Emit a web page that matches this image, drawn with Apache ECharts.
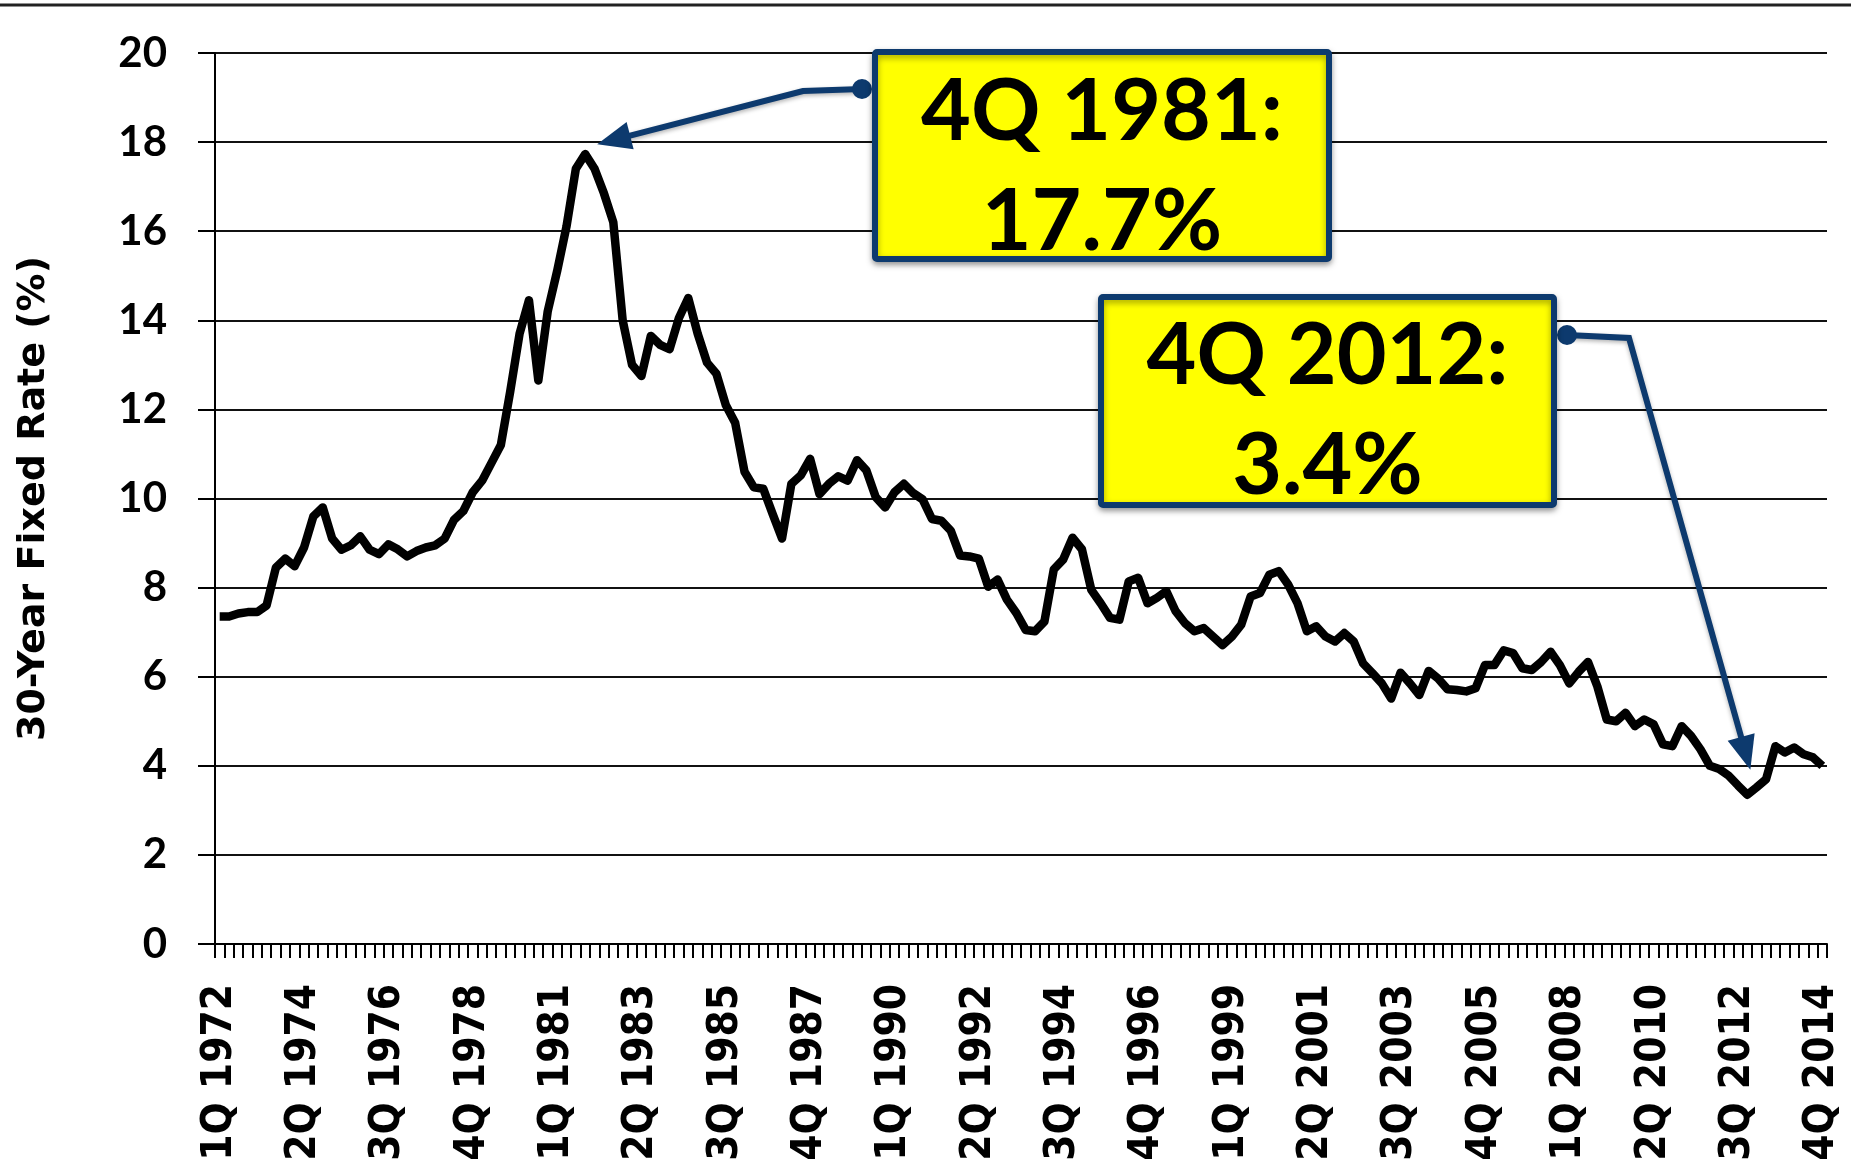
<!DOCTYPE html>
<html>
<head>
<meta charset="utf-8">
<script src="https://cdn.jsdelivr.net/npm/echarts@6/dist/echarts.min.js"></script>
<style>
  html, body { margin: 0; padding: 0; background: #fff; }
  #chart { width: 1851px; height: 1162px; }
</style>
</head>
<body>
<div id="chart"></div>
<script>
// quarters 1Q 1972 .. 4Q 2014
const quarters = [];
for (let y = 1972; y <= 2014; y++) {
  for (let q = 1; q <= 4; q++) quarters.push(q + "Q " + y);
}

// 30-year fixed rate, %
const rates = [
  7.35, 7.35, 7.42, 7.45, 7.45, 7.6, 8.45, 8.65, 8.48, 8.9,
  9.6, 9.8, 9.1, 8.85, 8.95, 9.15, 8.85, 8.75, 8.97, 8.86,
  8.7, 8.82, 8.9, 8.95, 9.1, 9.52, 9.72, 10.14, 10.4, 10.8,
  11.2, 12.4, 13.7, 14.45, 12.65, 14.2, 15.1, 16.1, 17.4, 17.73,
  17.4, 16.85, 16.2, 14.0, 13.0, 12.75, 13.65, 13.45, 13.35, 14.05,
  14.5, 13.7, 13.05, 12.8, 12.1, 11.7, 10.6, 10.25, 10.22, 9.65,
  9.1, 10.33, 10.52, 10.89, 10.1, 10.33, 10.5, 10.4, 10.86, 10.63,
  10.03, 9.8, 10.14, 10.33, 10.12, 9.98, 9.54, 9.5, 9.28, 8.72,
  8.7, 8.65, 8.02, 8.18, 7.73, 7.43, 7.05, 7.02, 7.24, 8.41,
  8.63, 9.12, 8.86, 7.95, 7.65, 7.32, 7.28, 8.14, 8.22, 7.65,
  7.77, 7.92, 7.47, 7.2, 7.02, 7.09, 6.9, 6.71, 6.9, 7.17,
  7.8, 7.88, 8.29, 8.37, 8.07, 7.65, 7.02, 7.13, 6.9, 6.79,
  6.98, 6.79, 6.3, 6.08, 5.85, 5.51, 6.09, 5.85, 5.59, 6.13,
  5.96, 5.72, 5.7, 5.67, 5.74, 6.26, 6.26, 6.59, 6.53, 6.19,
  6.15, 6.33, 6.56, 6.26, 5.85, 6.11, 6.33, 5.78, 5.04, 5.0,
  5.19, 4.89, 5.04, 4.93, 4.48, 4.44, 4.89, 4.67, 4.37, 4.0,
  3.93, 3.78, 3.56, 3.35, 3.52, 3.7, 4.44, 4.3, 4.41, 4.26,
  4.19, 4.0
];

const callouts = [
  { idx: 39, lines: ["4Q 1981:", "17.7%"] },
  { idx: 163, lines: ["4Q 2012:", "3.4%"] }
];

const navy = "#0d3a6e";
const chart = echarts.init(document.getElementById("chart"));

chart.setOption({
  animation: false,
  grid: { left: 215, right: 24, top: 53, bottom: 218, containLabel: false, outerBoundsMode: "none" },
  xAxis: {
    type: "category",
    data: quarters,
    boundaryGap: true,
    axisLine: { lineStyle: { color: "#000", width: 2 } },
    axisTick: { show: true, interval: 0, length: 14, lineStyle: { color: "#000", width: 2 } },
    axisLabel: {
      interval: 8,
      rotate: 90,
      margin: 40,
      color: "#000",
      fontFamily: "DejaVu Sans Condensed, DejaVu Sans",
      fontWeight: "bold",
      fontSize: 42
    },
    splitLine: { show: false }
  },
  yAxis: {
    type: "value",
    min: 0,
    max: 20,
    interval: 2,
    name: "30-Year Fixed Rate (%)",
    nameLocation: "middle",
    nameGap: 162,
    nameTextStyle: { fontFamily: "DejaVu Sans", fontWeight: "bold", fontSize: 38, color: "#000" },
    axisLine: { show: true, lineStyle: { color: "#000", width: 2 } },
    axisTick: { show: true, length: 17, lineStyle: { color: "#000", width: 2 } },
    axisLabel: { margin: 48, color: "#000", fontFamily: "Lato", fontWeight: "bold", fontSize: 42 },
    splitLine: { lineStyle: { color: "#111", width: 2 } }
  },
  series: [{
    type: "line",
    data: rates,
    showSymbol: false,
    lineStyle: { color: "#000", width: 8.5, join: "round" }
  }]
});

// arrow + box callouts
function arrow(pts) {
  const a = pts[pts.length - 2], b = pts[pts.length - 1];
  const ang = Math.atan2(b[1] - a[1], b[0] - a[0]);
  const L = 34, W = 14;
  const base = [b[0] - L * Math.cos(ang), b[1] - L * Math.sin(ang)];
  const nx = -Math.sin(ang), ny = Math.cos(ang);
  const line = pts.slice(0, -1).concat([[b[0] - (L - 4) * Math.cos(ang), b[1] - (L - 4) * Math.sin(ang)]]);
  return [
    { type: "polyline", z: 10, shape: { points: line },
      style: { stroke: navy, lineWidth: 6, fill: null, shadowBlur: 4, shadowColor: "rgba(0,0,0,0.3)", shadowOffsetY: 2 } },
    { type: "polygon", z: 10, shape: { points: [b, [base[0] + nx * W, base[1] + ny * W], [base[0] - nx * W, base[1] - ny * W]] },
      style: { fill: navy } },
    { type: "circle", z: 11, shape: { cx: pts[0][0], cy: pts[0][1], r: 10 }, style: { fill: navy } }
  ];
}

function box(x, y, w, h, lines, y1, y2) {
  return [
    { type: "rect", z: 12, shape: { x: x, y: y, width: w, height: h, r: 2 },
      style: { fill: "#ffff00", stroke: navy, lineWidth: 6, shadowBlur: 6, shadowColor: "rgba(0,0,0,0.35)", shadowOffsetY: 3 } },
    { type: "text", z: 13, x: x + w / 2, y: y1,
      style: { text: lines[0], fill: "#000", font: "bold 86px Lato", textAlign: "center", textVerticalAlign: "middle" } },
    { type: "text", z: 13, x: x + w / 2, y: y2,
      style: { text: lines[1], fill: "#000", font: "bold 86px Lato", textAlign: "center", textVerticalAlign: "middle" } }
  ];
}

const p1 = chart.convertToPixel({ seriesIndex: 0 }, [callouts[0].idx, rates[callouts[0].idx]]);
const p2 = chart.convertToPixel({ seriesIndex: 0 }, [callouts[1].idx, rates[callouts[1].idx]]);

const graphics = [
  { type: "line", shape: { x1: 0, y1: 5, x2: 1851, y2: 5 }, style: { stroke: "#222", lineWidth: 3 } }
]
  .concat(arrow([[862, 89], [803, 91], [p1[0] + 12, p1[1] - 10]]))
  .concat(box(875, 52, 454, 207, callouts[0].lines, 112, 222))
  .concat(arrow([[1567, 335], [1629, 338], [p2[0] + 3, p2[1] - 25]]))
  .concat(box(1101, 297, 453, 208, callouts[1].lines, 356, 466));

chart.setOption({ graphic: graphics });
</script>
</body>
</html>
